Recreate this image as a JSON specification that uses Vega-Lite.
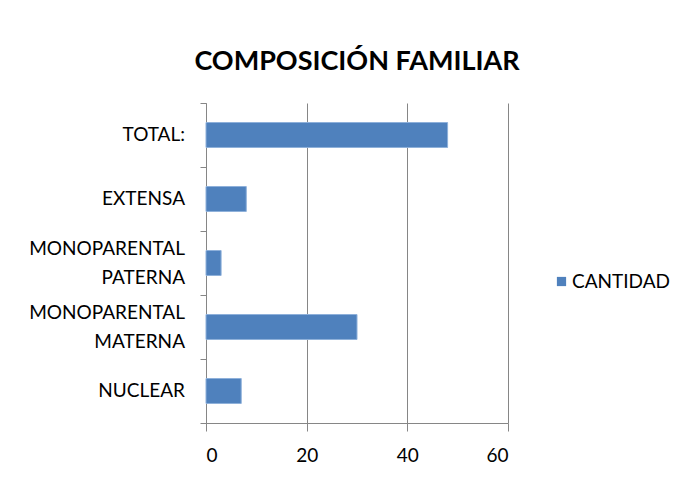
{
  "$schema": "https://vega.github.io/schema/vega-lite/v6.json",
  "autosize": "none",
  "padding": {"left": 206, "top": 103, "right": 179, "bottom": 58},
  "width": 302,
  "height": 320,
  "background": "white",
  "title": {
    "text": "COMPOSICIÓN FAMILIAR",
    "font": "Lato",
    "fontSize": 27,
    "fontWeight": "bold",
    "color": "#000000",
    "anchor": "middle",
    "offset": 27
  },
  "data": {
    "values": [
      {"categoria": "TOTAL:", "cantidad": 48, "serie": "CANTIDAD"},
      {"categoria": "EXTENSA", "cantidad": 8, "serie": "CANTIDAD"},
      {"categoria": "MONOPARENTAL|PATERNA", "cantidad": 3, "serie": "CANTIDAD"},
      {"categoria": "MONOPARENTAL|MATERNA", "cantidad": 30, "serie": "CANTIDAD"},
      {"categoria": "NUCLEAR", "cantidad": 7, "serie": "CANTIDAD"}
    ]
  },
  "layer": [
    {
      "mark": {"type": "bar", "color": "#4F81BD", "stroke": "#8EB0DA", "strokeWidth": 1, "height": {"band": 0.39}},
      "encoding": {
        "y": {
          "field": "categoria",
          "type": "nominal",
          "sort": null,
          "scale": {"paddingInner": 0, "paddingOuter": 0},
          "axis": {
            "title": null,
            "labels": false,
            "tickBand": "extent",
            "tickSize": 6,
            "tickColor": "#868686",
            "domainColor": "#868686",
            "grid": false
          }
        },
        "x": {
          "field": "cantidad",
          "type": "quantitative",
          "scale": {"domain": [0, 60], "nice": false},
          "axis": {
            "title": null,
            "values": [0, 20, 40, 60],
            "labelFont": "Lato",
            "labelFontSize": 19,
            "labelColor": "#000000",
            "labelPadding": 15,
            "tickSize": 8,
            "tickColor": "#868686",
            "domainColor": "#868686",
            "grid": true,
            "gridColor": "#868686",
            "gridWidth": 1
          }
        },
        "color": {
          "field": "serie",
          "type": "nominal",
          "scale": {"range": ["#4F81BD"]},
          "legend": {
            "title": null,
            "orient": "none",
            "legendX": 346,
            "legendY": 169,
            "symbolType": "square",
            "symbolSize": 85,
            "symbolStrokeWidth": 0,
            "labelFont": "Lato",
            "labelFontSize": 19,
            "labelColor": "#000000",
            "labelOffset": 1
          }
        }
      }
    },
    {
      "transform": [{"filter": "indexof(datum.categoria, '|') < 0"}],
      "mark": {"type": "text", "align": "right", "baseline": "middle", "dx": -21, "font": "Lato", "fontSize": 19, "color": "#000000"},
      "encoding": {
        "y": {"field": "categoria", "type": "nominal", "sort": null},
        "x": {"datum": 0, "type": "quantitative"},
        "text": {"field": "categoria"}
      }
    },
    {
      "transform": [{"filter": "indexof(datum.categoria, '|') >= 0"}],
      "mark": {"type": "text", "align": "right", "baseline": "middle", "dx": -21, "dy": -14.5, "lineBreak": "|", "lineHeight": 29, "font": "Lato", "fontSize": 19, "color": "#000000"},
      "encoding": {
        "y": {"field": "categoria", "type": "nominal", "sort": null},
        "x": {"datum": 0, "type": "quantitative"},
        "text": {"field": "categoria"}
      }
    }
  ],
  "config": {"view": {"stroke": null}}
}
